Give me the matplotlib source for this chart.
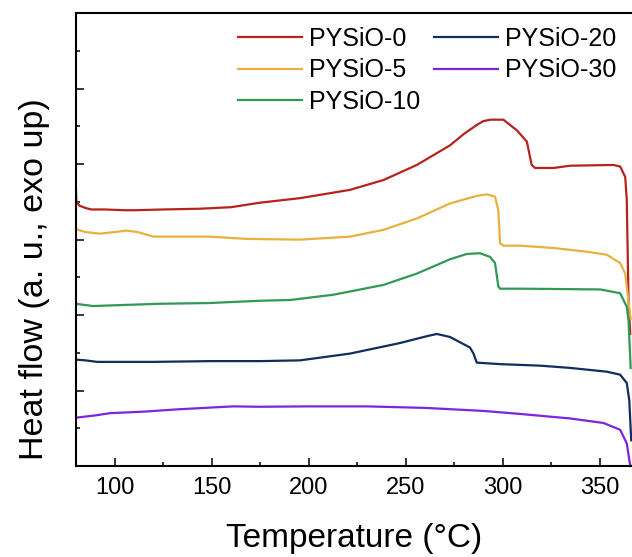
import matplotlib
matplotlib.use("Agg")
import matplotlib.pyplot as plt
from matplotlib.ticker import MultipleLocator

plt.rcParams['font.family'] = ['Liberation Sans', 'DejaVu Sans']

# DSC traces (temperature in C, heat flow in a.u.)
t_0 = [80, 80.3, 82, 85, 88, 95, 105, 111, 125, 144, 160, 170, 175, 195.6, 221.4,
       238.6, 255.8, 272.9, 280, 286.7, 290, 293.6, 300.4, 307.3, 312.5, 315, 316.8,
       326.2, 334.8, 357.1, 360.6, 363.2, 364, 364.9, 365.8]
hf_0 = [3.77, 3.50, 3.45, 3.42, 3.40, 3.40, 3.39, 3.39, 3.40, 3.41, 3.43, 3.47, 3.49,
        3.55, 3.66, 3.79, 3.99, 4.25, 4.40, 4.52, 4.57, 4.59, 4.59, 4.45, 4.30, 3.99,
        3.95, 3.95, 3.98, 3.99, 3.97, 3.83, 3.53, 2.20, 1.75]

t_5 = [80, 85, 92.5, 100, 106, 112, 120, 149, 168, 195.6, 221.4, 238.6, 255.8, 272.9,
       286.7, 291.9, 296.1, 297.8, 298.7, 300.4, 309, 326, 343.4, 353.7, 360.6, 363.2,
       364, 365, 366]
hf_5 = [3.14, 3.10, 3.08, 3.10, 3.12, 3.10, 3.04, 3.04, 3.01, 3.00, 3.04, 3.13, 3.28,
        3.48, 3.58, 3.60, 3.57, 3.39, 2.95, 2.92, 2.92, 2.89, 2.84, 2.80, 2.69, 2.55,
        2.38, 2.15, 1.95]

t_10 = [80, 89, 100, 123, 149, 175, 190.5, 212.8, 238.6, 255.8, 272.9, 281.5, 288.4,
        293.6, 296.1, 297.8, 298.7, 309, 350.3, 360.6, 364, 364.9, 365.5, 366]
hf_10 = [2.15, 2.12, 2.13, 2.15, 2.16, 2.19, 2.20, 2.27, 2.40, 2.55, 2.74, 2.81, 2.82,
         2.77, 2.69, 2.38, 2.35, 2.35, 2.34, 2.29, 2.11, 1.93, 1.60, 1.30]

t_20 = [80, 85, 91, 120, 150, 175, 195.6, 221.4, 247.2, 260.9, 266.1, 272.9, 283.2,
        285, 286.7, 298.7, 319.3, 334.8, 353.7, 360.6, 364, 365.3, 366, 366.3]
hf_20 = [1.41, 1.40, 1.38, 1.38, 1.39, 1.39, 1.40, 1.49, 1.63, 1.72, 1.75, 1.71, 1.57,
         1.49, 1.37, 1.35, 1.33, 1.30, 1.25, 1.21, 1.10, 0.87, 0.50, 0.34]

t_30 = [80, 90, 97.7, 115, 132, 161, 175, 200, 230, 260, 290, 309, 334.8, 352, 360.6,
        364, 365.5, 366]
hf_30 = [0.64, 0.67, 0.70, 0.72, 0.75, 0.79, 0.785, 0.79, 0.79, 0.77, 0.73, 0.69, 0.63,
         0.57, 0.48, 0.30, 0.05, 0.0]

labels = ['PYSiO-0', 'PYSiO-5', 'PYSiO-10', 'PYSiO-20', 'PYSiO-30']
colors = ['#B8221E', '#E9B040', '#2F9A55', '#102E5C', '#7F24DD']
temps = [t_0, t_5, t_10, t_20, t_30]
flows = [hf_0, hf_5, hf_10, hf_20, hf_30]

fig = plt.figure(figsize=(6.32, 5.57), dpi=100)
ax = fig.add_axes([0.1198, 0.1634, 0.8802, 0.8127])

for t, hf, lab, c in zip(temps, flows, labels, colors):
    ax.plot(t, hf, color=c, lw=1.6, label=lab)

ax.set_xlim(80, 366.7)
ax.set_ylim(0, 6)
ax.xaxis.set_major_locator(MultipleLocator(50))
ax.xaxis.set_minor_locator(MultipleLocator(25))
ax.yaxis.set_major_locator(MultipleLocator(1))
ax.yaxis.set_minor_locator(MultipleLocator(0.5))
ax.tick_params(which='both', direction='in', width=1.1, top=False, right=False)
ax.tick_params(which='major', length=5.5)
ax.tick_params(which='minor', length=3)
ax.tick_params(axis='x', labelsize=17, pad=8)
ax.tick_params(axis='y', labelleft=False)
for side in ['left', 'bottom', 'top']:
    ax.spines[side].set_linewidth(1.5)
ax.spines['right'].set_visible(False)

ax.set_xlabel('Temperature (\u00b0C)', fontsize=24, labelpad=17)
ax.set_ylabel('Heat flow (a. u., exo up)', fontsize=24.5)
ax.yaxis.set_label_coords(-0.046, 0.413)

ax.legend(loc='upper left', bbox_to_anchor=(0.2918, 0.97), ncol=2, frameon=False,
          fontsize=18, handlelength=2.56, handletextpad=0.28, columnspacing=0.56,
          labelspacing=0.3, borderpad=0, borderaxespad=0)

fig.savefig('out.png', dpi=100)
